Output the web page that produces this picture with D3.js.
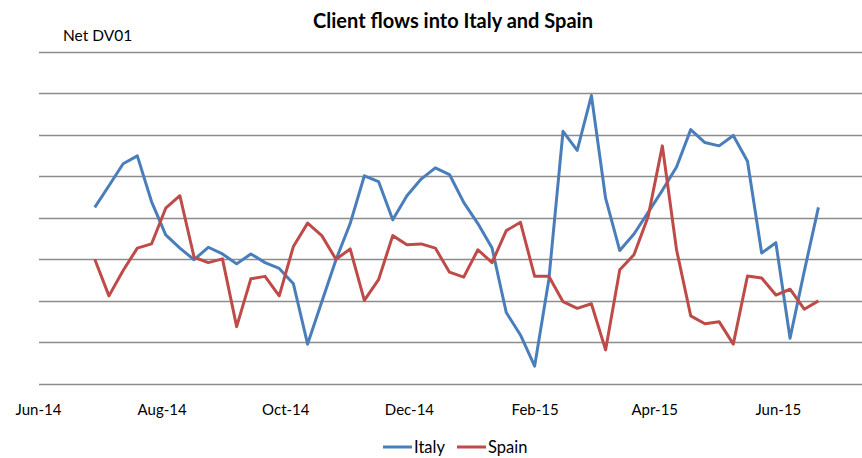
<!DOCTYPE html>
<html>
<head>
<meta charset="utf-8">
<script src="https://cdn.jsdelivr.net/npm/d3@7"></script>
<style>
  body { margin: 0; background: #fff; }
  svg text { font-family: Lato, "Open Sans", sans-serif; fill: #000; }
</style>
</head>
<body>
<div id="chart"></div>
<script>
// weekly observations, first one on 29 Jun 2014
const firstWeek = new Date(2014, 5, 29);
const nWeeks = 52;

// net DV01 (arbitrary units, one unit = one gridline)
const italy = [4.25, 4.77, 5.30, 5.49, 4.39, 3.59, 3.27, 2.99, 3.29, 3.13,
  2.89, 3.13, 2.92, 2.78, 2.41, 0.96, 1.98, 2.99, 3.86, 5.01,
  4.87, 3.95, 4.53, 4.93, 5.20, 5.04, 4.37, 3.86, 3.27, 1.72,
  1.18, 0.43, 2.51, 6.08, 5.62, 6.94, 4.47, 3.21, 3.61, 4.13,
  4.66, 5.22, 6.12, 5.81, 5.73, 5.98, 5.36, 3.15, 3.40, 1.10,
  2.71, 4.25];
const spain = [3.00, 2.12, 2.73, 3.27, 3.37, 4.23, 4.53, 3.05, 2.92, 3.01,
  1.38, 2.53, 2.59, 2.12, 3.31, 3.87, 3.57, 3.00, 3.25, 2.01,
  2.51, 3.57, 3.35, 3.37, 3.27, 2.69, 2.57, 3.23, 2.92, 3.69,
  3.89, 2.59, 2.59, 1.98, 1.82, 1.93, 0.82, 2.75, 3.11, 4.03,
  5.73, 3.23, 1.64, 1.45, 1.50, 0.96, 2.60, 2.55, 2.14, 2.28,
  1.80, 2.00];

const gridValues = [0, 1, 2, 3, 4, 5, 6, 7, 8];
const tickDates = [new Date(2014, 5, 1), new Date(2014, 7, 1), new Date(2014, 9, 1),
  new Date(2014, 11, 1), new Date(2015, 1, 1), new Date(2015, 3, 1), new Date(2015, 5, 1)];

const seriesNames = ['Italy', 'Spain'];
const seriesColors = ['#4a7ebb', '#be4b48'];

const width = 862, height = 458;
const svg = d3.select('#chart').append('svg')
  .attr('width', width)
  .attr('height', height);

const dates = d3.range(nWeeks).map(i => d3.timeDay.offset(firstWeek, 7 * i));

const xScale = d3.scaleTime()
  .domain([new Date(2014, 5, 1), new Date(2015, 6, 12)])
  .range([38, 861]);

const yScale = d3.scaleLinear()
  .domain([0, 8])
  .range([384, 51.5]);

// gridlines
svg.append('g')
  .attr('class', 'grid')
  .selectAll('line')
  .data(gridValues)
  .join('line')
  .attr('x1', 39)
  .attr('x2', width)
  .attr('y1', d => Math.round(yScale(d)) + 0.5)
  .attr('y2', d => Math.round(yScale(d)) + 0.5)
  .attr('stroke', '#8c8c8c')
  .attr('stroke-width', 1.3);

// x axis labels
const xAxis = d3.axisBottom(xScale)
  .tickValues(tickDates)
  .tickSize(0)
  .tickPadding(0)
  .tickFormat(d3.timeFormat('%b-%y'));
const gx = svg.append('g')
  .attr('transform', 'translate(0,' + 404 + ')')
  .call(xAxis);
gx.select('.domain').remove();
gx.selectAll('text')
  .attr('font-size', 15)
  .attr('font-family', 'Lato, "Open Sans", sans-serif')
  .attr('fill', '#000');

// lines
const line = d3.line()
  .x((d, i) => xScale(dates[i]))
  .y(d => yScale(d));

[italy, spain].forEach((series, k) => {
  svg.append('path')
    .datum(series)
    .attr('d', line)
    .attr('fill', 'none')
    .attr('stroke', seriesColors[k])
    .attr('stroke-width', 3)
    .attr('stroke-linejoin', 'round');
});

// title and axis caption
svg.append('text')
  .attr('x', 453)
  .attr('y', 28)
  .attr('text-anchor', 'middle')
  .attr('font-size', 20)
  .attr('font-weight', 'bold')
  .text('Client flows into Italy and Spain');

svg.append('text')
  .attr('x', 63)
  .attr('y', 41)
  .attr('font-size', 15.5)
  .text('Net DV01');

// legend
const legendX = [383, 457];
const legend = svg.append('g').attr('class', 'legend');
seriesNames.forEach((name, k) => {
  legend.append('line')
    .attr('x1', legendX[k])
    .attr('x2', legendX[k] + 29)
    .attr('y1', 447)
    .attr('y2', 447)
    .attr('stroke', seriesColors[k])
    .attr('stroke-width', 3);
  legend.append('text')
    .attr('x', legendX[k] + 31)
    .attr('y', 453)
    .attr('font-size', 16.5)
    .text(name);
});
</script>
</body>
</html>
